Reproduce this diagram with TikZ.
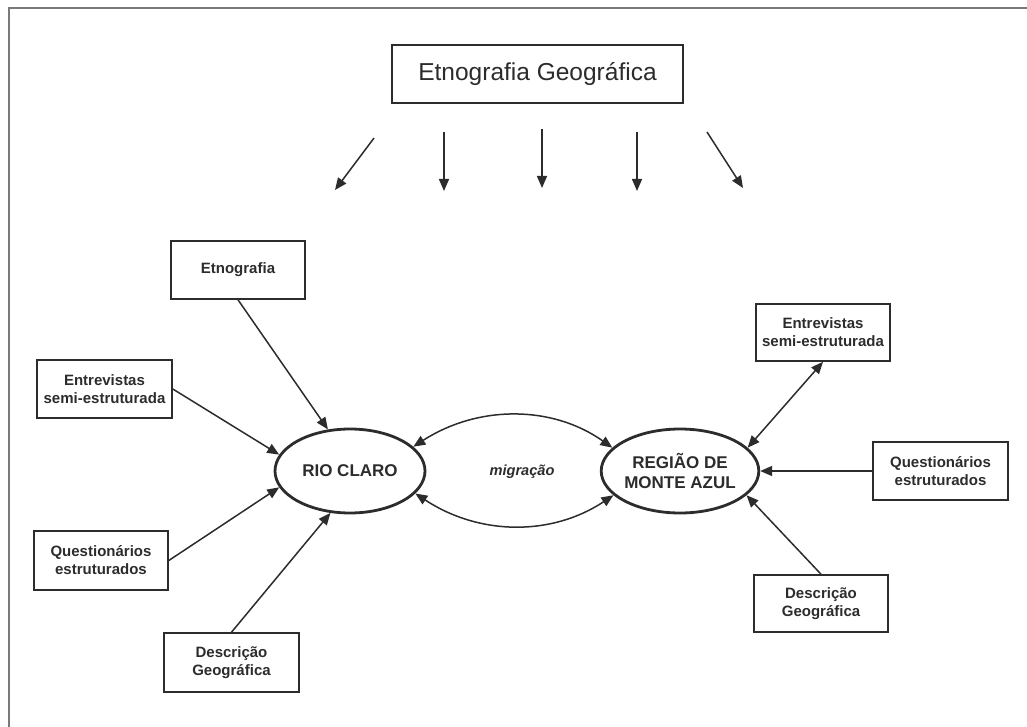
\documentclass[tikz,border=0pt]{standalone}
\usepackage{fontspec}
\setmainfont{Liberation Sans}
\usetikzlibrary{arrows.meta,shapes.geometric}
\definecolor{ink}{HTML}{2C2C2C}
\definecolor{framec}{HTML}{7A7A7A}
\tikzset{
  box/.style={draw=ink, line width=1.6pt, rectangle, inner sep=0pt, align=center,
    text=ink, font=\fontsize{15}{18}\selectfont\bfseries},
  region/.style={draw=ink, line width=2.8pt, ellipse, inner sep=0pt, align=center,
    minimum width=150pt, minimum height=84pt, text=ink,
    font=\fontsize{17}{19.5}\selectfont\bfseries},
  tip/.style={},
  conn/.style={draw=ink, line width=1.5pt, -{Triangle[length=12pt,width=10pt]}},
  dconn/.style={draw=ink, line width=1.5pt, {Triangle[length=12pt,width=10pt]}-{Triangle[length=12pt,width=10pt]}},
}
\begin{document}
\begin{tikzpicture}[x=1pt,y=-1pt]
\useasboundingbox (0,0) rectangle (1027,727);
% frame
\coordinate (fa) at (9,727);
\coordinate (fb) at (9,8);
\coordinate (fc) at (1027,8);
\draw[framec, line width=1.6pt] (fa) -- (fb) -- (fc);

% top box
\node[box, minimum width=291pt, minimum height=58pt, font=\fontsize{24.5}{28}\selectfont]
  (top) at (537.5,74) {Etnografia Geográfica};

% top arrows (free)
\coordinate (a1s) at (374,138); \coordinate (a1e) at (335,190);
\coordinate (a2s) at (444,132); \coordinate (a2e) at (444,191);
\coordinate (a3s) at (542,129); \coordinate (a3e) at (542,188);
\coordinate (a4s) at (637,132); \coordinate (a4e) at (637,191);
\coordinate (a5s) at (707,132); \coordinate (a5e) at (743,188);
\draw[conn] (a1s) -- (a1e);
\draw[conn] (a2s) -- (a2e);
\draw[conn] (a3s) -- (a3e);
\draw[conn] (a4s) -- (a4e);
\draw[conn] (a5s) -- (a5e);

% regions
\node[region] (rc) at (350,471) {RIO CLARO};
\node[region, minimum width=148pt] (reg) at (680,471) {REGIÃO DE\\MONTE AZUL};

% left boxes
\node[box, minimum width=134pt, minimum height=58pt] (etno) at (238,270) {Etnografia};
\node[box, minimum width=135pt, minimum height=58pt] (e1) at (104.5,389) {Entrevistas\\semi-estruturada};
\node[box, minimum width=134pt, minimum height=59pt] (q1) at (101,560.5) {Questionários\\estruturados};
\node[box, minimum width=135pt, minimum height=59pt] (d1) at (231.5,662.5) {Descrição\\Geográfica};

% right boxes
\node[box, minimum width=134pt, minimum height=57pt] (e2) at (823,332.5) {Entrevistas\\semi-estruturada};
\node[box, minimum width=135pt, minimum height=58pt] (q2) at (940.5,471) {Questionários\\estruturados};
\node[box, minimum width=134pt, minimum height=57pt] (d2) at (821,603.5) {Descrição\\Geográfica};

% left connectors
\draw[conn] (etno.south) -- (rc.118);
\draw[conn] (e1.east) -- (rc.167);
\draw[conn] (q1.east) -- (rc.193);
\draw[conn] (d1.north) -- (rc.245);

% right connectors
\draw[dconn] (e2.south) -- (reg.19);
\draw[conn] (q2.west) -- (reg.east);
\draw[conn] (d2.north) -- (reg.340);

% migration arcs
\draw[dconn] (rc.21) .. controls (478,405) and (552,405) .. (reg.161);
\draw[dconn] (rc.341) .. controls (480,536) and (552,536) .. (reg.200);
\node[text=ink, font=\fontsize{14.6}{17}\selectfont\bfseries\itshape] (mig) at (522,472) {migração};
\end{tikzpicture}
\end{document}
